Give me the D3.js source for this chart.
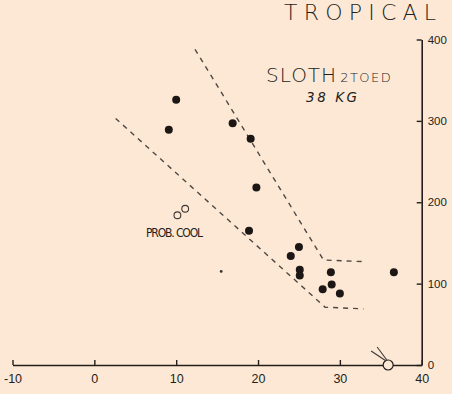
<!DOCTYPE html>
<html>
<head>
<meta charset="utf-8">
<script src="https://cdn.jsdelivr.net/npm/d3@7"></script>
<style>
  html, body { margin: 0; padding: 0; background: #fce8d5; }
  svg { display: block; }
  text { fill: #231e1b; }
</style>
</head>
<body>
<svg id="chart" width="452" height="394"></svg>
<script>
// Ambient temperature (°C) vs. oxygen consumption, two-toed sloth
const xTicks = [-10, 0, 10, 20, 30, 40];
const yTicks = [0, 100, 200, 300, 400];

// measured animals (filled dots)
const tempC = [10.0, 9.1, 16.9, 19.1, 19.8, 18.9, 25.0, 24.0, 25.1, 25.1, 28.9, 29.0, 27.9, 30.0, 36.6];
const rate  = [326, 289, 297, 278, 218, 165, 145, 134, 117, 110, 114, 99, 93, 88, 114];

// small stray mark
const strayX = [15.5];
const strayY = [115];

// animals probably cooling (open circles)
const coolX = [10.15, 11.1];
const coolY = [184, 192];

// body temperature marker on the baseline
const bodyX = [35.9];
const bodyY = [0];

// dashed envelope lines
const upperX = [12.3, 28.0, 32.9];
const upperY = [388, 129, 127];
const lowerX = [2.6, 28.2, 32.9];
const lowerY = [303, 71, 69];

const svg = d3.select("#chart");
const x = d3.scaleLinear().domain([-10, 40]).range([12.5, 421.7]);
const y = d3.scaleLinear().domain([0, 400]).range([365, 39.5]);

const ink = "#231e1b";
const font = "'DejaVu Sans', 'Liberation Sans', sans-serif";
const tickFont = "'Liberation Sans', 'DejaVu Sans', sans-serif";
const fmt = d => String(d);

// x axis: ticks point up, labels below
const gx = svg.append("g")
  .attr("transform", `translate(0,${y(0)})`)
  .call(d3.axisBottom(x).tickValues(xTicks).tickSize(-5).tickSizeOuter(0).tickPadding(9)
    .tickFormat(fmt));
gx.select(".domain").attr("stroke", ink).attr("stroke-width", 1.6);
gx.selectAll(".tick line").attr("stroke", ink).attr("stroke-width", 1.4);
gx.selectAll(".tick text").attr("font-family", tickFont).attr("font-size", 12.5)
  .attr("fill", ink);

// y axis on the right: ticks point left, labels right
const gy = svg.append("g")
  .attr("transform", `translate(${x(40)},0)`)
  .call(d3.axisRight(y).tickValues(yTicks).tickSize(-5).tickSizeOuter(0).tickPadding(6)
    .tickFormat(fmt));
gy.select(".domain").attr("stroke", ink).attr("stroke-width", 1.6);
gy.selectAll(".tick line").attr("stroke", ink).attr("stroke-width", 1.4);
gy.selectAll(".tick text").attr("font-family", tickFont).attr("font-size", 11.5)
  .attr("fill", ink);

// dashed envelope
const line = d3.line().x(d => x(d[0])).y(d => y(d[1]));
[[upperX, upperY], [lowerX, lowerY]].forEach(([xs, ys]) => {
  svg.append("path")
    .datum(xs.map((v, i) => [v, ys[i]]))
    .attr("d", line)
    .attr("fill", "none")
    .attr("stroke", "#4f4843")
    .attr("stroke-width", 1.4)
    .attr("stroke-dasharray", "5,5");
});

// filled dots
svg.append("g").selectAll("circle")
  .data(tempC.map((v, i) => [v, rate[i]]))
  .join("circle")
  .attr("cx", d => x(d[0])).attr("cy", d => y(d[1]))
  .attr("r", 4).attr("fill", "#1c1715");

svg.append("g").selectAll("circle")
  .data(strayX.map((v, i) => [v, strayY[i]]))
  .join("circle")
  .attr("cx", d => x(d[0])).attr("cy", d => y(d[1]))
  .attr("r", 1.4).attr("fill", "#3a3330");

// open circles
svg.append("g").selectAll("circle")
  .data(coolX.map((v, i) => [v, coolY[i]]))
  .join("circle")
  .attr("cx", d => x(d[0])).attr("cy", d => y(d[1]))
  .attr("r", 3.4).attr("fill", "none").attr("stroke", "#3f3834").attr("stroke-width", 1.1);

// body temperature marker with pointer
const bx = x(bodyX[0]), by = y(bodyY[0]);
svg.append("circle").attr("cx", bx).attr("cy", by).attr("r", 5)
  .attr("fill", "#fce8d5").attr("stroke", ink).attr("stroke-width", 1.2);
svg.append("line").attr("x1", bx - 17).attr("y1", by - 14).attr("x2", bx - 2).attr("y2", by - 4)
  .attr("stroke", "#3f3834").attr("stroke-width", 1.1);
svg.append("line").attr("x1", bx - 11).attr("y1", by - 18).attr("x2", bx - 1).attr("y2", by - 4.5)
  .attr("stroke", "#3f3834").attr("stroke-width", 1.1);

// titles
svg.append("text").attr("x", 284).attr("y", 20)
  .attr("font-family", font).attr("font-size", 22).attr("font-weight", 200)
  .attr("textLength", 152).attr("lengthAdjust", "spacing").text("TROPICAL");

const t = svg.append("text").attr("x", 266).attr("y", 82)
  .attr("font-family", font).attr("font-weight", 200);
t.append("tspan").attr("font-size", 20).attr("letter-spacing", 1).text("SLOTH");
t.append("tspan").attr("font-size", 13).attr("dx", 3).attr("letter-spacing", 1.5).text("2TOED");

svg.append("text").attr("x", 306).attr("y", 102)
  .attr("font-family", font).attr("font-size", 13.5).attr("font-style", "italic")
  .attr("font-weight", 200).attr("textLength", 51).text("38 KG");

svg.append("text").attr("x", 146).attr("y", 237)
  .attr("font-family", "'Liberation Sans Narrow', 'DejaVu Sans Condensed', sans-serif")
  .attr("font-size", 12).attr("textLength", 57).text("PROB. COOL");
</script>
</body>
</html>
